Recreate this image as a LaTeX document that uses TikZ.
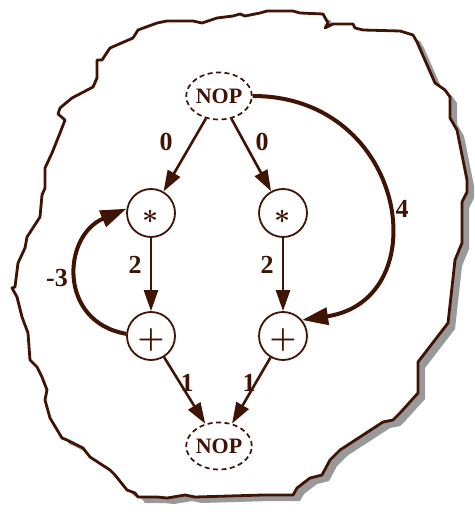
\documentclass[tikz,border=0pt]{standalone}
\usepackage{graphicx}
\usepackage{fontspec}
\setmainfont{Liberation Serif}
\usetikzlibrary{arrows.meta,shapes.geometric}
\definecolor{brn}{HTML}{401404}
\definecolor{shd}{HTML}{999999}
\def\blobpath{(97,60) -- (102,60) -- (110,48) -- (133,38) -- (138,30) -- (157,23) -- (167,21) -- (193,21) -- (202,23) -- (217,18) -- (233,16) -- (240,14) -- (245,16) -- (260,13) -- (267,11) -- (293,11) -- (300,13) -- (323,14) -- (328,23) -- (325,28) -- (333,24) -- (353,24) -- (355,28) -- (363,30) -- (400,31) -- (413,35) -- (417,42) -- (435,83) -- (445,90) -- (450,97) -- (450,118) -- (457,130) -- (463,160) -- (467,180) -- (467,192) -- (462,202) -- (462,243) -- (455,260) -- (448,323) -- (418,362) -- (418,393) -- (400,413) -- (393,420) -- (383,422) -- (340,450) -- (330,460) -- (322,475) -- (310,478) -- (297,488) -- (293,495) -- (263,495) -- (195,497) -- (185,495) -- (167,498) -- (157,497) -- (138,497) -- (135,493) -- (127,490) -- (115,475) -- (110,470) -- (90,457) -- (83,448) -- (67,440) -- (62,438) -- (50,418) -- (45,400) -- (47,390) -- (42,377) -- (37,367) -- (30,360) -- (28,333) -- (22,317) -- (17,297) -- (12,288) -- (15,287) -- (18,263) -- (25,248) -- (27,237) -- (40,217) -- (42,195) -- (45,188) -- (45,168) -- (52,153) -- (60,133) -- (65,120) -- (58,114) -- (60,108) -- (72,98) -- (93,87) -- (97,78) -- cycle}
\begin{document}
\begin{tikzpicture}[x=1pt,y=-1pt,
  opnode/.style={circle,draw=brn,fill=white,line width=1.8pt,minimum size=48pt,inner sep=0pt},
  sym/.style={text=brn,inner sep=0pt},
  nopnode/.style={ellipse,draw=brn,fill=white,line width=1.7pt,dash pattern=on 5pt off 3.5pt,minimum width=57pt,minimum height=47pt,inner sep=0pt,text=brn,font=\fontsize{22}{22}\selectfont\bfseries},
  edge/.style={draw=brn,line width=2.6pt,-{Triangle[length=21pt,width=14pt]}},
  bigedge/.style={draw=brn,line width=4pt,-{Triangle[length=26pt,width=17pt]}},
  lbl/.style={text=brn,font=\fontsize{26}{26}\selectfont\bfseries,inner sep=0pt}]
\useasboundingbox (0,0) rectangle (474,518);
\fill[shd,shift={(7,6)}] \blobpath;
\filldraw[fill=white,draw=brn,line width=2.8pt,line join=round] \blobpath;

\node[nopnode] (n1) at (219,96) {NOP};
\node[opnode,label={[sym,yshift=-4pt]center:\scalebox{2.8}{\boldmath$\ast$}}] (m1) at (151,213) {};
\node[opnode,label={[sym,yshift=-4pt]center:\scalebox{2.8}{\boldmath$\ast$}}] (m2) at (283,213) {};
\node[opnode,label={[sym,yshift=-4pt]center:\scalebox{3}{\boldmath$+$}}] (p1) at (151,336) {};
\node[opnode,label={[sym,yshift=-4pt]center:\scalebox{3}{\boldmath$+$}}] (p2) at (283,336) {};
\node[nopnode] (n2) at (219,446) {NOP};

\draw[edge] (n1) -- (m1);
\draw[edge] (n1) -- (m2);
\draw[edge] (m1) -- (p1);
\draw[edge] (m2) -- (p2);
\draw[edge] (p1) -- (n2);
\draw[edge] (p2) -- (n2);
\draw[bigedge] (p1.175) .. controls (58,322) and (62,236) .. (m1.170);
\draw[bigedge] (n1.east) .. controls (408,96) and (438,300) .. (p2.40);

\node[lbl] (l0a) at (166,142) {0};
\node[lbl] (l0b) at (262,142) {0};
\node[lbl] (l2a) at (135,265) {2};
\node[lbl] (l2b) at (267,265) {2};
\node[lbl] (l1a) at (187,383) {1};
\node[lbl] (l1b) at (249,383) {1};
\node[lbl] (l3) at (57,278) {-3};
\node[lbl] (l4) at (402,209) {4};
\end{tikzpicture}
\end{document}
